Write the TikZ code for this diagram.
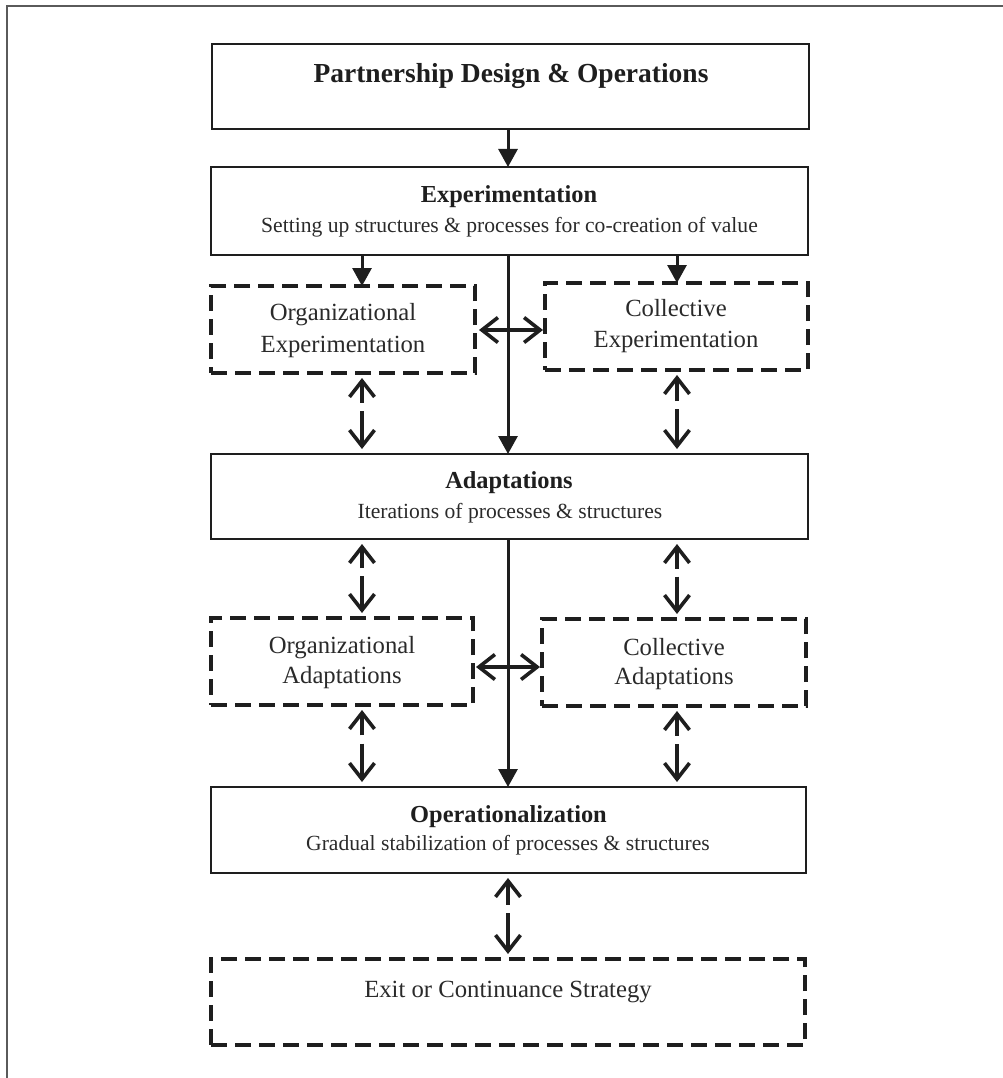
\documentclass[tikz,border=0pt]{standalone}
\usepackage{fontspec}
\setmainfont{Liberation Serif}
\usetikzlibrary{arrows.meta,calc}
\definecolor{ink}{HTML}{1E1E1E}
\definecolor{txt}{HTML}{2A2A2A}
\definecolor{framec}{HTML}{5A5A5A}
\begin{document}
\begin{tikzpicture}[x=1pt,y=-1pt,
  solidbox/.style={draw=ink, line width=2pt, inner sep=0pt, outer sep=0pt},
  dashbox/.style={draw=ink, line width=3.2pt, dash pattern=on 16pt off 8pt, inner sep=0pt, outer sep=0pt},
  ttl/.style={anchor=base, inner sep=0pt, text=ink, font=\bfseries\fontsize{27.5}{33}\selectfont},
  hd/.style={anchor=base, inner sep=0pt, text=ink, font=\bfseries\fontsize{24.4}{29}\selectfont},
  sub/.style={anchor=base, inner sep=0pt, text=txt, font=\fontsize{21.6}{26}\selectfont},
  dtx/.style={anchor=base, inner sep=0pt, text=txt, font=\fontsize{24.7}{30}\selectfont},
  fa/.style={draw=ink, line width=3pt, -{Triangle[length=18pt,width=19pt]}},
  ob/.style={draw=ink, line width=3.6pt, -{Straight Barb[length=16pt,width=25pt]}},
  dob/.style={draw=ink, line width=3.6pt, {Straight Barb[length=16pt,width=25pt]}-{Straight Barb[length=16pt,width=25pt]}}
]
\useasboundingbox (0,0) rectangle (1003,1078);
% outer frame (top and left edges)
\draw[framec, line width=2pt] (7,1078) -- (7,6) -- (1003,6);

% reference columns / rows
\coordinate (M) at (508,0);
\coordinate (L) at (362,0);
\coordinate (R) at (677,0);
\coordinate (H1) at (0,330);
\coordinate (H2) at (0,667);

% solid boxes
\node[solidbox, minimum width=597pt, minimum height=85pt] (P) at (510.5,86.5) {};
\node[solidbox, minimum width=597pt, minimum height=88pt] (E) at (509.5,211) {};
\node[solidbox, minimum width=597pt, minimum height=85pt] (A) at (509.5,496.5) {};
\node[solidbox, minimum width=595pt, minimum height=86pt] (O) at (508.5,830) {};

% dashed boxes
\node[dashbox, minimum width=264pt, minimum height=87pt] (OE) at (343,329.5) {};
\node[dashbox, minimum width=263pt, minimum height=87pt] (CE) at (676.5,326.5) {};
\node[dashbox, minimum width=262pt, minimum height=87pt] (OA) at (342,661.5) {};
\node[dashbox, minimum width=264pt, minimum height=87pt] (CA) at (674,662.5) {};
\node[dashbox, minimum width=594pt, minimum height=86pt] (X) at (508,1002) {};

% texts
\node[ttl] (Pt) at (511,83) {Partnership Design \& Operations};
\node[hd] (Et) at (509,203) {Experimentation};
\node[sub] (Es) at (509.5,232) {Setting up structures \& processes for co-creation of value};
\node[hd] (At) at (509,488) {Adaptations};
\node[sub] (As) at (510,518) {Iterations of processes \& structures};
\node[hd] (Ot) at (508.5,822) {Operationalization};
\node[sub] (Os) at (508,850) {Gradual stabilization of processes \& structures};
\node[dtx] (OE1) at (343,320) {Organizational};
\node[dtx] (OE2) at (343,352) {Experimentation};
\node[dtx] (CE1) at (676,316) {Collective};
\node[dtx] (CE2) at (676,347) {Experimentation};
\node[dtx] (OA1) at (342,653) {Organizational};
\node[dtx] (OA2) at (342,683) {Adaptations};
\node[dtx] (CA1) at (674,655) {Collective};
\node[dtx] (CA2) at (674,684) {Adaptations};
\node[dtx] (Xt) at (508,997) {Exit or Continuance Strategy};

% filled arrows
\draw[fa] (P.south -| M) -- (E.north -| M);
\draw[fa] (E.south -| L) -- (OE.north -| L);
\draw[fa] (E.south -| R) -- (CE.north -| R);
\draw[fa] (E.south -| M) -- (A.north -| M);
\draw[fa] (A.south -| M) -- (O.north -| M);

% horizontal double arrows
\draw[dob, shorten <=4pt, shorten >=2pt] (OE.east |- H1) -- (CE.west |- H1);
\draw[dob, shorten <=3pt, shorten >=2pt] (OA.east |- H2) -- (CA.west |- H2);

% vertical split double arrows
\foreach \top/\bot/\col in {OE/A/L, CE/A/R, A/OA/L, A/CA/R, OA/O/L, CA/O/R, O/X/M}{
  \path (\top.south -| \col) coordinate (t\top\bot) (\bot.north -| \col) coordinate (b\top\bot);
  \draw[ob, shorten >=5pt] ($(t\top\bot)!0.37!(b\top\bot)$) -- (t\top\bot);
  \draw[ob, shorten >=5pt] ($(t\top\bot)!0.47!(b\top\bot)$) -- (b\top\bot);
}
\end{tikzpicture}
\end{document}
